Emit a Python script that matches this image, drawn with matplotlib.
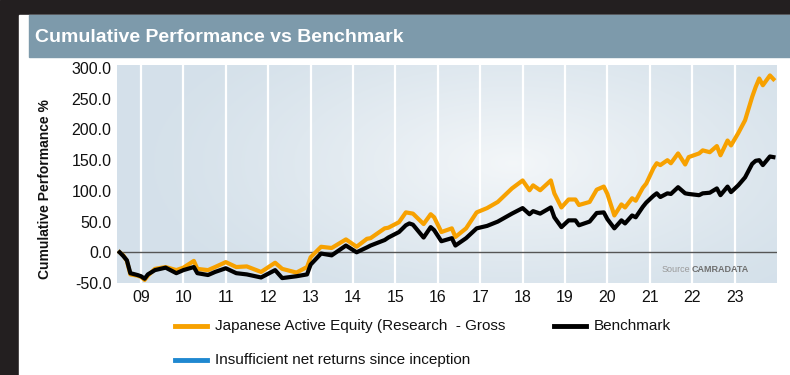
import numpy as np
import pandas as pd
import matplotlib
matplotlib.use("Agg")
import matplotlib.pyplot as plt
from matplotlib.patches import Rectangle
from matplotlib.lines import Line2D

# month-end readings, cumulative % since inception
months = [
    "2008-07", "2008-08", "2008-09", "2008-10", "2008-12", "2009-01", "2009-02", "2009-03",
    "2009-05", "2009-08", "2009-11", "2010-01", "2010-04", "2010-05", "2010-08", "2010-10",
    "2011-01", "2011-04", "2011-07", "2011-11", "2012-03", "2012-05", "2012-09", "2012-12",
    "2013-01", "2013-04", "2013-07", "2013-11", "2014-02", "2014-05", "2014-06", "2014-10",
    "2014-11", "2015-02", "2015-04", "2015-05", "2015-06", "2015-09", "2015-11", "2015-12",
    "2016-02", "2016-05", "2016-06", "2016-09", "2016-12", "2017-03", "2017-06", "2017-10",
    "2018-01", "2018-03", "2018-04", "2018-06", "2018-09", "2018-10", "2018-12", "2019-02",
    "2019-04", "2019-05", "2019-08", "2019-10", "2019-12", "2020-01", "2020-03", "2020-05",
    "2020-06", "2020-08", "2020-09", "2020-11", "2020-12", "2021-02", "2021-03", "2021-04",
    "2021-06", "2021-07", "2021-09", "2021-11", "2021-12", "2022-03", "2022-04", "2022-06",
    "2022-08", "2022-09", "2022-11", "2022-12", "2023-02", "2023-04", "2023-06", "2023-07",
    "2023-08", "2023-09", "2023-11", "2023-12",
]
fund = [
    0, -5, -14, -36, -38, -40, -45, -38,
    -27, -24, -29, -25, -14, -27, -29, -24,
    -16, -24, -23, -32, -17, -27, -33, -24,
    -8, 9, 7, 21, 9, 22, 23, 39,
    40, 49, 65, 64, 63, 46, 62, 57,
    33, 39, 25, 39, 65, 72, 82, 104,
    117, 101, 109, 101, 117, 96, 73, 86,
    86, 77, 82, 102, 107, 95, 60, 78,
    73, 88, 84, 105, 112, 137, 145, 142,
    150, 145, 161, 143, 155, 161, 166, 163,
    173, 158, 182, 174, 194, 215, 253, 269,
    283, 272, 288, 282,
]
bench = [
    0, -6, -13, -34, -37, -39, -43, -36,
    -29, -25, -34, -29, -24, -34, -37, -32,
    -26, -34, -36, -41, -29, -42, -39, -36,
    -20, -2, -5, 11, 0, 8, 11, 20,
    24, 33, 44, 47, 45, 24, 41, 36,
    18, 23, 11, 23, 39, 43, 50, 63,
    72, 62, 67, 63, 73, 57, 41, 52,
    52, 44, 50, 64, 65, 54, 39, 52,
    47, 60, 57, 74, 81, 92, 96, 90,
    96, 95, 106, 96, 95, 93, 96, 97,
    104, 93, 107, 98, 109, 122, 144, 149,
    150, 142, 156, 155,
]
years = list(range(2009, 2024))
yticks = [-50, 0, 50, 100, 150, 200, 250, 300]

dates = pd.to_datetime(months)

W, H = 790, 375
fig = plt.figure(figsize=(W / 100, H / 100), dpi=100)
arial = ["Liberation Sans", "DejaVu Sans"]


def px(x, y):
    return x / W, 1 - y / H


# frame: dark border, white card, grey-blue title bar
fig.patches.append(Rectangle((0, 0), 1, 1, transform=fig.transFigure, color="#231f20", zorder=-3))
fig.patches.append(Rectangle(px(19, 375), (W - 19) / W, (375 - 15) / H,
                             transform=fig.transFigure, color="white", zorder=-2))
fig.patches.append(Rectangle(px(29, 57), (W - 29) / W, 42 / H,
                             transform=fig.transFigure, color="#7d9aab", zorder=-1))
fig.text(*px(35, 37), "Cumulative Performance vs Benchmark", color="white",
         fontsize=14, fontweight="bold", family=arial, va="center", ha="left")

ax = fig.add_axes([117 / W, 92 / H, 660 / W, 218 / H])

# soft radial highlight behind the lines
gx, gy = np.meshgrid(np.linspace(0, 1, 300), np.linspace(0, 1, 150))
r = np.sqrt(((gx - 0.6) / 0.55) ** 2 + ((gy - 0.55) / 0.75) ** 2)
t = np.clip(1 - r, 0, 1) ** 1.2
edge = np.array([0.835, 0.882, 0.918])
center = np.array([0.955, 0.967, 0.976])
img = edge + (center - edge) * t[..., None]
ax.imshow(img, extent=[0, 1, 0, 1], transform=ax.transAxes, aspect="auto",
          origin="lower", zorder=0)

for yr in years:
    ax.axvline(pd.Timestamp(f"{yr}-01-01"), color="white", lw=1.6, zorder=1)
ax.axhline(0, color="#555555", lw=1.0, zorder=2)

ax.plot(dates, fund, color="#f7a100", lw=3.0, zorder=3, solid_joinstyle="round")
ax.plot(dates, bench, color="black", lw=3.0, zorder=4, solid_joinstyle="round")

ax.set_xlim(pd.Timestamp("2008-06-08"), pd.Timestamp("2024-01-01"))
ax.set_ylim(-50, 305)
ax.set_xticks([pd.Timestamp(f"{yr}-01-01") for yr in years])
ax.set_xticklabels([f"{yr % 100:02d}" for yr in years])
ax.set_yticks(yticks)
ax.set_yticklabels([f"{v:.1f}" for v in yticks])
ax.tick_params(length=0, labelsize=11.5, colors="#111111")
ax.tick_params(axis="y", pad=4)
ax.tick_params(axis="x", pad=5)
for lab in ax.get_xticklabels() + ax.get_yticklabels():
    lab.set_family(arial)
for s in ax.spines.values():
    s.set_visible(False)

fig.text(*px(45, 189), "Cumulative Performance %", rotation=90, fontsize=10,
         fontweight="bold", family=arial, ha="center", va="center", color="#111111")

fig.text(*px(690, 269), "Source", fontsize=6.5, family=arial, color="#9a9a9a",
         ha="right", va="center")
fig.text(*px(692, 269), "CAMRADATA", fontsize=6.5, family=arial, fontweight="bold",
         color="#6f6f6f", ha="left", va="center")

# legend
entries = [
    (175, 326, "#f7a100", "Japanese Active Equity (Research  - Gross"),
    (554, 326, "black", "Benchmark"),
    (175, 360, "#1f88d0", "Insufficient net returns since inception"),
]
for x0, y0, c, label in entries:
    fig.add_artist(Line2D([x0 / W, (x0 + 32) / W], [1 - y0 / H] * 2, color=c, lw=3.5,
                          transform=fig.transFigure))
    fig.text(*px(x0 + 40, y0), label, fontsize=11, family=arial, color="#111111",
             ha="left", va="center")

fig.savefig("out.png", dpi=100)
